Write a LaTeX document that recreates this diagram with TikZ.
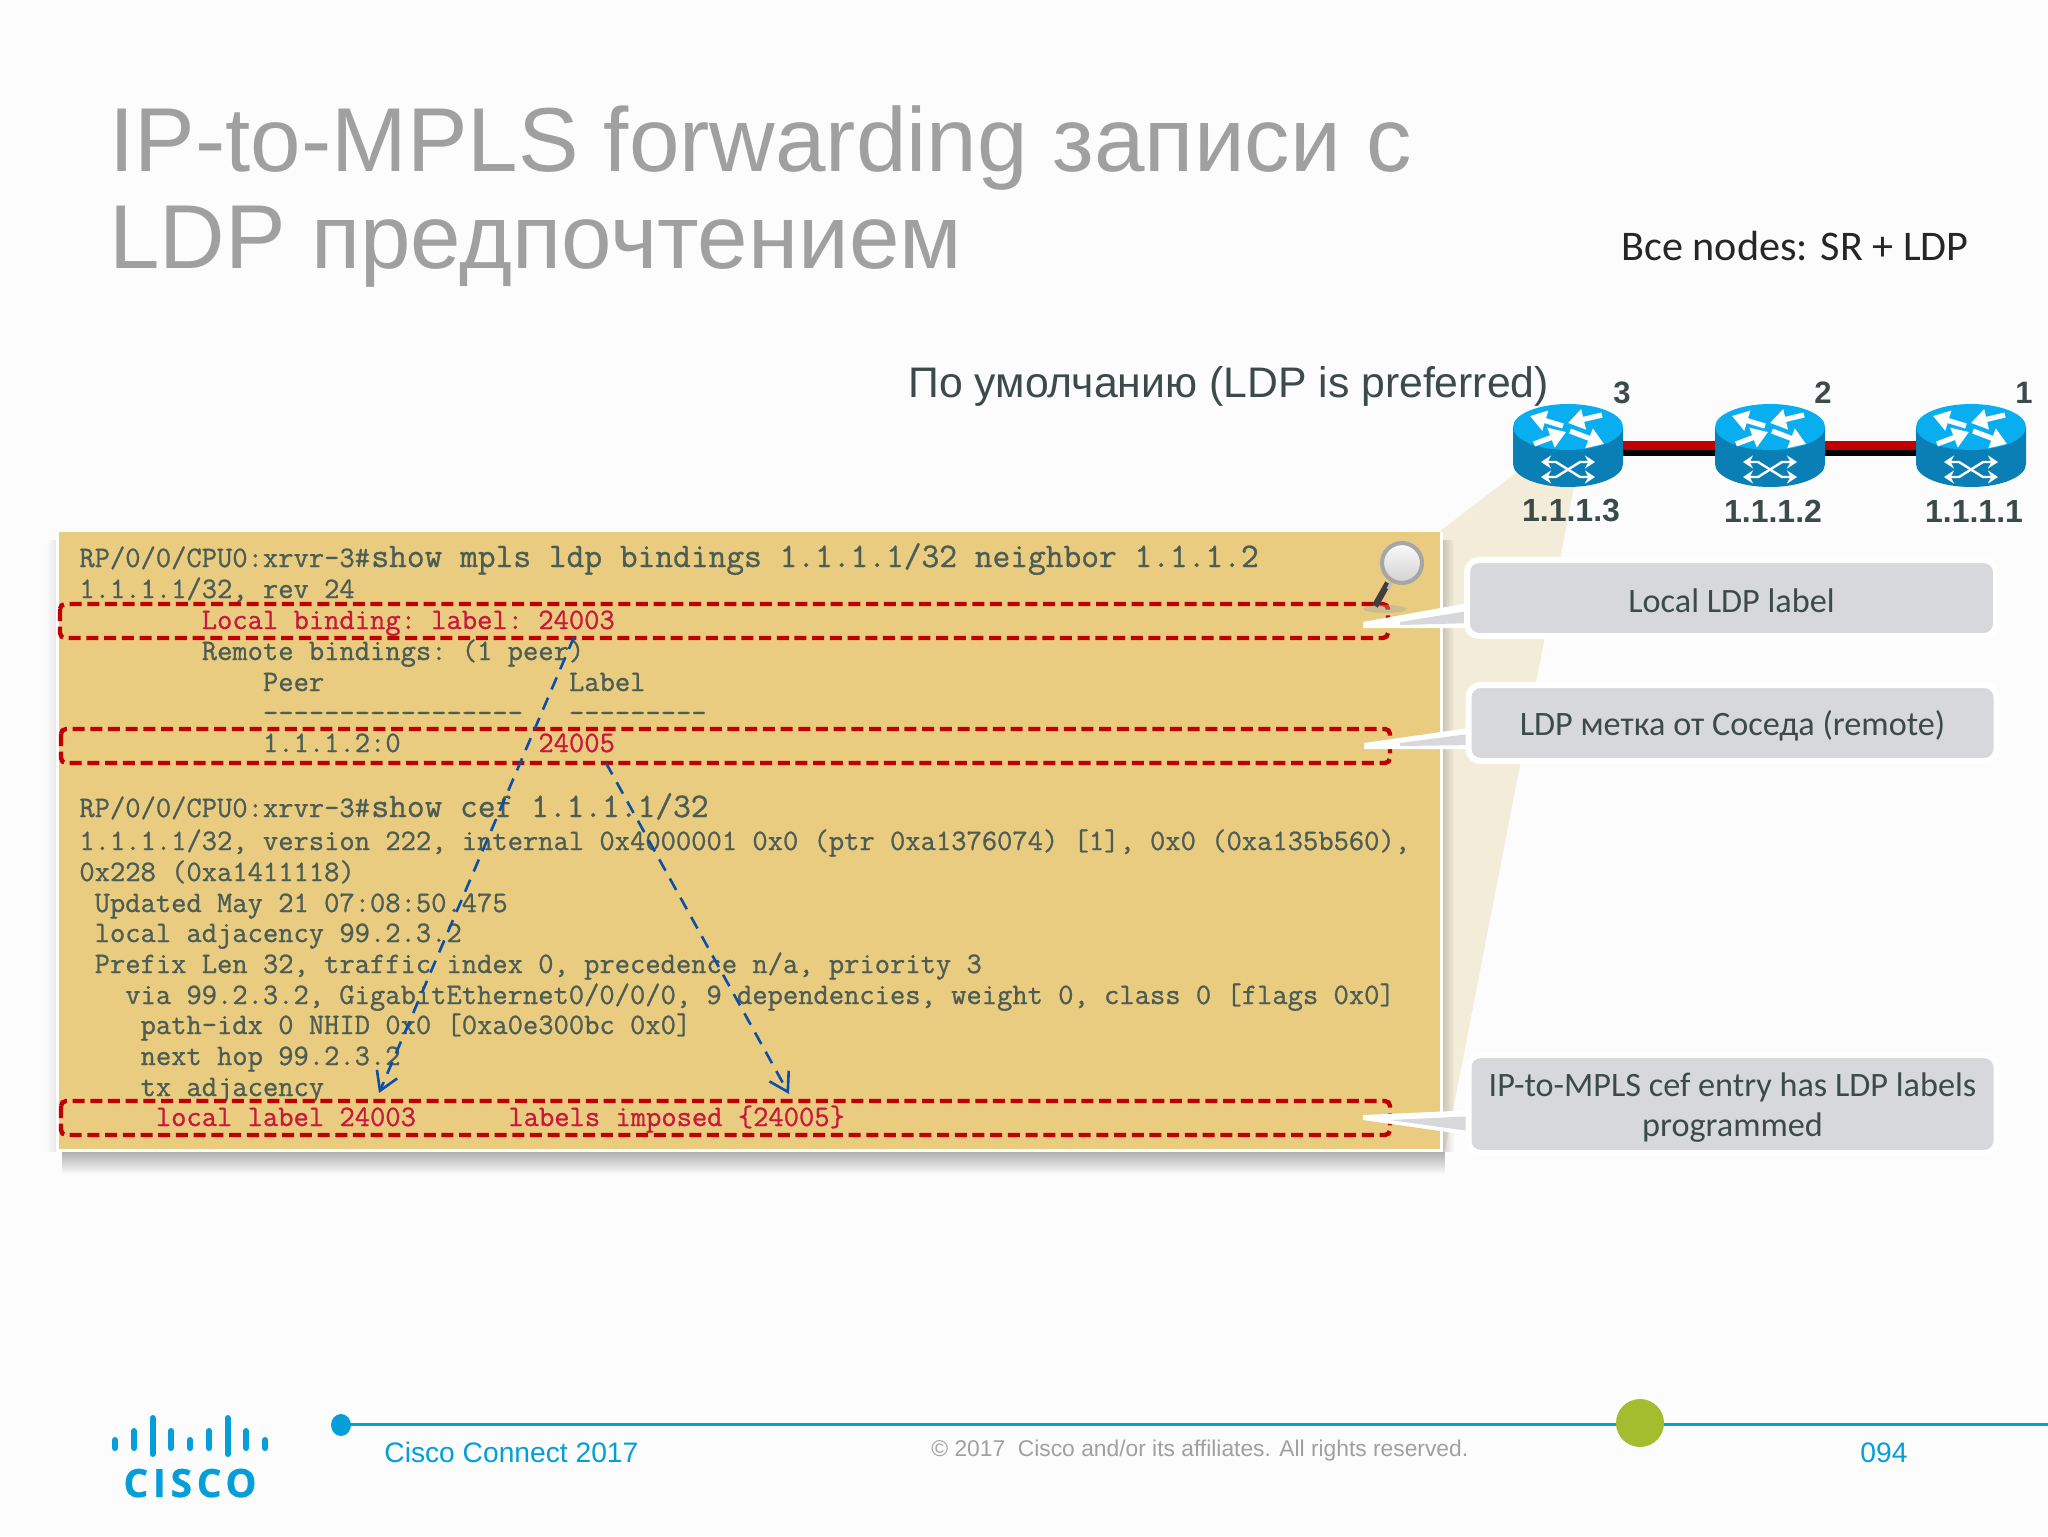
\documentclass[tikz,border=0pt]{standalone}
\usepackage{fontspec}
\setmainfont{Liberation Sans}
\setmonofont[FakeBold=0.9]{Latin Modern Mono}
\newfontfamily\calfont{Carlito}
\newfontfamily\logofont[LetterSpace=12,BoldFeatures={FakeBold=0.6}]{Open Sans}
\usetikzlibrary{arrows.meta,calc,fadings}
\definecolor{titlegray}{HTML}{A0A0A0}
\definecolor{panelcol}{HTML}{E9CC80}
\definecolor{wedgecol}{HTML}{F3ECD8}
\definecolor{codecol}{HTML}{4C5D55}
\definecolor{redtxt}{HTML}{C8193C}
\definecolor{boxred}{HTML}{C00000}
\definecolor{arrowblue}{HTML}{0B4FA8}
\definecolor{calloutgray}{HTML}{D7D8DB}
\definecolor{calltxt}{HTML}{3C4A4A}
\definecolor{ciscoblue}{HTML}{049FD9}
\definecolor{dotgreen}{HTML}{A4BD2F}
\definecolor{rtop}{HTML}{08AEEF}
\definecolor{rside}{HTML}{0A7FB5}
\tikzset{
  code/.style={inner sep=0pt,anchor=base west,text=codecol,font=\ttfamily\fontsize{14.85}{16}\selectfont\frenchspacing},
  cmd/.style={code,font=\ttfamily\fontsize{17.23}{18}\selectfont\frenchspacing},
  redcode/.style={code,text=redtxt},
  redbox/.style={draw=boxred,line width=2.2pt,rounded corners=2.5pt,dash pattern=on 6pt off 2.85pt},
  bluearrow/.style={draw=arrowblue,line width=1.3pt,dash pattern=on 6.5pt off 4.5pt,-{Straight Barb[length=9pt,width=11pt]}},
  callout/.style={fill=calloutgray,draw=white,line width=3pt,rounded corners=6pt,inner sep=0pt},
  calltext/.style={inner sep=0pt,align=center,text=calltxt,font=\calfont\fontsize{17.1}{20}\selectfont},
  rlabel/.style={inner sep=0pt,text=calltxt,font=\bfseries\fontsize{16}{18}\selectfont},
  rnum/.style={inner sep=0pt,text=calltxt,font=\bfseries\fontsize{15.5}{18}\selectfont},
  rarrow/.style={draw=white,line width=2.6pt,-{Triangle[length=8pt,width=10pt]}},
  xarrow/.style={draw=white,line width=1.2pt,{Stealth[length=5pt,width=6.5pt]}-{Stealth[length=5pt,width=6.5pt]}},
  logobar/.style={draw=ciscoblue,line width=3pt,line cap=round},
  foot/.style={inner sep=0pt,anchor=base west,text=ciscoblue,font=\fontsize{14.1}{17}\selectfont},
}
\newcommand{\router}[3]{% name, x, y of top ellipse centre
  \coordinate (#1) at (#2,#3);
  \begin{scope}[shift={(#2,#3)}]
    \fill[rside] (-55,0) -- (-55,37) arc[start angle=180,end angle=0,x radius=55,y radius=23] -- (55,0) -- cycle;
    \fill[rtop] (0,0) ellipse[x radius=55,y radius=23];
    \draw[rarrow] (-5,-1) -- (-38,-11);
    \draw[rarrow] (34,-12) -- (0,-4);
    \draw[rarrow] (-34,17) -- (-2,5);
    \draw[rarrow] (2,4) -- (36,17);
    \draw[xarrow] (-27,35) -- (-12,35) -- (12,50) -- (27,50);
    \draw[xarrow] (-27,50) -- (-12,50) -- (12,35) -- (27,35);
  \end{scope}}
\begin{document}
\begin{tikzpicture}[x=0.5pt,y=-0.5pt]
\useasboundingbox (0,0) rectangle (2048,1536);
\fill[white!99!black] (0,0) rectangle (2048,1536);
% title
\node[inner sep=0pt,anchor=base west,text=titlegray] (t1) at (109,171) {\fontsize{45.4}{48}\selectfont IP-to-MPLS forwarding записи с};
\node[inner sep=0pt,anchor=base west,text=titlegray] (t2) at (109,268) {\fontsize{45.4}{48}\selectfont LDP предпочтением};
\node[inner sep=0pt,anchor=base west,text=black!85] (allnodes) at (1621,260) {\calfont\fontsize{21.1}{24}\selectfont Все nodes: SR + LDP};
\node[inner sep=0pt,anchor=base west,text=calltxt] (defl) at (908,397) {\fontsize{21.37}{26}\selectfont По умолчанию (LDP is preferred)};
% wedge
\fill[wedgecol] (1439,532) -- (1516,473) -- (1574,487) -- (1445,1151) -- (1439,1151) -- cycle;
% panel shadow
\fill[black,opacity=.3,path fading=south] (62,1152) rectangle (1446,1174);
\fill[black,opacity=.16,path fading=east] (1443,540) rectangle (1454,1152);
\fill[black,opacity=.08,path fading=west] (46,540) rectangle (56,1152);
\fill[white] (56,532) rectangle (1443,1152);
\fill[panelcol] (59,532) rectangle (1440,1149);
% routers
\coordinate (a3) at (1568,427);
\coordinate (a2) at (1770,427);
\coordinate (a1) at (1971,427);
\draw[black,line width=3pt] ([yshift=-13pt]a3) -- ([yshift=-13pt]a2) -- ([yshift=-13pt]a1);
\draw[boxred,line width=4.5pt] ([yshift=-9.25pt]a3) -- ([yshift=-9.25pt]a2) -- ([yshift=-9.25pt]a1);
\router{r3}{1568}{427}
\router{r2}{1770}{427}
\router{r1}{1971}{427}
\node[rnum] (n3) at (1622,393) {3};
\node[rnum] (n2) at (1823,393) {2};
\node[rnum] (n1) at (2024,393) {1};
\node[rlabel] (l3) at (1571,511) {1.1.1.3};
\node[rlabel] (l2) at (1773,511) {1.1.1.2};
\node[rlabel] (l1) at (1974,511) {1.1.1.1};
% code
\begin{scope}[xshift=0.5pt]
\node[code] (c1) at (78,567) {RP/0/0/CPU0:xrvr-3\#};
\node[cmd] (c1b) at (370,567) {show mpls ldp bindings 1.1.1.1/32 neighbor 1.1.1.2};
\node[code] (c2) at (78,598) {1.1.1.1/32, rev 24};
\node[redcode] (c3) at (200.4,629) {Local binding: label: 24003};
\node[code] (c4) at (200.4,660) {Remote bindings: (1 peer)};
\node[code] (c5) at (261.6,691) {Peer};
\node[code] (c5b) at (567.6,691) {Label};
\node[code] (c6) at (261.6,722) {-----------------};
\node[code] (c6b) at (567.6,722) {---------};
\node[code] (c7) at (261.6,752) {1.1.1.2:0};
\node[redcode] (c7b) at (537,752) {24005};
\node[code] (c9) at (78,817) {RP/0/0/CPU0:xrvr-3\#};
\node[cmd] (c9b) at (370,817) {show cef 1.1.1.1/32};
\node[code] (c10) at (78,850) {1.1.1.1/32, version 222, internal 0x4000001 0x0 (ptr 0xa1376074) [1], 0x0 (0xa135b560),};
\node[code] (c11) at (78,881) {0x228 (0xa1411118)};
\node[code] (c12) at (93.3,912) {Updated May 21 07:08:50.475};
\node[code] (c13) at (93.3,942) {local adjacency 99.2.3.2};
\node[code] (c14) at (93.3,973) {Prefix Len 32, traffic index 0, precedence n/a, priority 3};
\node[code] (c15) at (123.9,1004) {via 99.2.3.2, GigabitEthernet0/0/0/0, 9 dependencies, weight 0, class 0 [flags 0x0]};
\node[code] (c16) at (139.2,1034) {path-idx 0 NHID 0x0 [0xa0e300bc 0x0]};
\node[code] (c17) at (139.2,1065) {next hop 99.2.3.2};
\node[code] (c18) at (139.2,1096) {tx adjacency};
\node[redcode] (c19) at (154.5,1126) {local label 24003};
\node[redcode] (c19b) at (507,1126) {labels imposed \{24005\}};
\end{scope}
% red boxes
\draw[redbox] (60,604) rectangle (1388,638);
\draw[redbox] (61,729) rectangle (1390,763);
\draw[redbox] (61,1101) rectangle (1390,1135);
% blue arrows
\coordinate (as1) at (574,637);
\coordinate (ae1) at (379,1093);
\coordinate (as2) at (606,763);
\coordinate (ae2) at (789,1094);
\draw[bluearrow] (as1) -- (ae1);
\draw[bluearrow] (as2) -- (ae2);
% magnifier
\fill[black!35,opacity=.4] (1385,609) ellipse[x radius=22,y radius=4];
\draw[black!75,line width=3.2pt] (1388,583) -- (1375,606);
\draw[gray!50,line width=1.5pt] (1392,581) -- (1388,589);
\shade[top color=white!95!gray,bottom color=gray!35!white] (1402,563) circle[radius=18];
\draw[gray!70,line width=2pt] (1402,563) circle[radius=20];
% callouts
\fill[white] (1363,622) -- (1474,602) -- (1474,628) -- (1363,628) -- cycle;
\fill[calloutgray] (1400,622) -- (1474,610) -- (1474,623) -- (1400,625) -- cycle;
\node[callout,minimum width=264.5pt,minimum height=38pt] (b1) at (1731.5,598) {};
\node[calltext] (b1t) at (1731.5,601) {Local LDP label};
\fill[white] (1364,743) -- (1476,727) -- (1476,749) -- (1364,749) -- cycle;
\fill[calloutgray] (1400,743) -- (1476,733) -- (1476,745) -- (1400,746) -- cycle;
\node[callout,minimum width=264pt,minimum height=38pt] (b2) at (1732.5,723) {};
\node[calltext] (b2t) at (1732.5,726) {LDP метка от Соседа (remote)};
\fill[white] (1363,1115) -- (1476,1110) -- (1476,1136) -- (1363,1120) -- cycle;
\fill[calloutgray] (1390,1120) -- (1476,1116) -- (1476,1132) -- cycle;
\node[callout,minimum width=264pt,minimum height=49pt] (b3) at (1732.5,1104) {};
\node[calltext] (b3t) at (1732.5,1108) {IP-to-MPLS cef entry has LDP labels\\programmed};
% footer
\draw[ciscoblue,line width=1.5pt] (342,1424) -- (2048,1424);
\fill[ciscoblue] (341,1425) ellipse[x radius=10,y radius=11];
\fill[dotgreen] (1640,1423) circle[radius=24];
\node[foot] (f1) at (384,1462) {Cisco Connect 2017};
\node[inner sep=0pt,anchor=base west,text=titlegray] (f2) at (931,1456) {\fontsize{11.4}{14}\selectfont © 2017\ \ Cisco and/or its affiliates. All rights reserved.};
\node[foot] (f3) at (1860,1462) {094};
\draw[logobar] (115,1440) -- (115,1448);
\draw[logobar] (134,1431) -- (134,1448);
\draw[logobar] (152.5,1418) -- (152.5,1454);
\draw[logobar] (171,1431) -- (171,1448);
\draw[logobar] (190,1440) -- (190,1448);
\draw[logobar] (209,1431) -- (209,1448);
\draw[logobar] (227.5,1418) -- (227.5,1454);
\draw[logobar] (246,1431) -- (246,1448);
\draw[logobar] (265,1440) -- (265,1448);
\node[inner sep=0pt,anchor=base,text=ciscoblue] (logo) at (190,1497) {\logofont\bfseries\fontsize{19.5}{22}\selectfont CISCO};
\end{tikzpicture}
\end{document}
